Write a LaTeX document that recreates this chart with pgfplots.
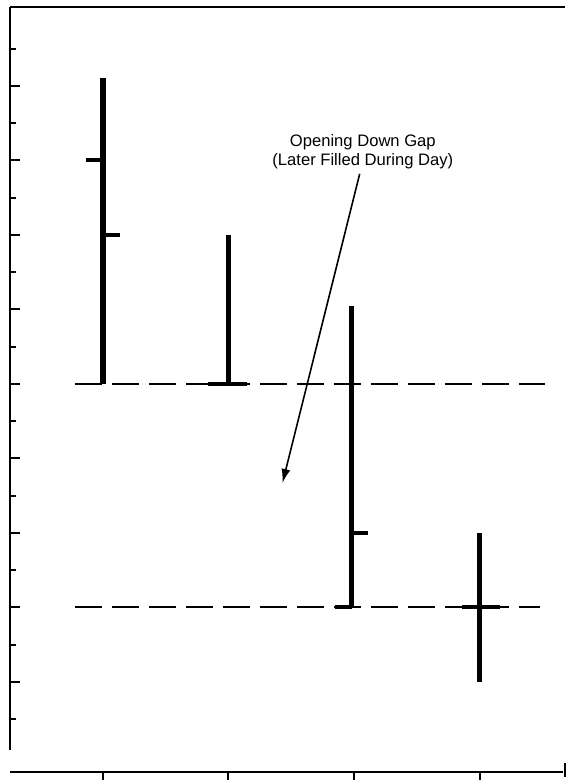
\documentclass[border=0pt]{standalone}
\usepackage{pgfplots}
\pgfplotsset{compat=1.18}
\usepackage{fontspec}
\setmainfont{Liberation Sans}
\usetikzlibrary{arrows.meta}
\begin{document}
\begin{tikzpicture}[x=1pt,y=1pt]
\useasboundingbox (0,0) rectangle (284,390);
\begin{axis}[
  at={(5pt,4pt)}, anchor=south west,
  scale only axis, width=277.5pt, height=382.5pt,
  xmin=0.26, xmax=4.68, ymin=-0.21, ymax=10.06,
  axis line style={draw=none},
  every tick/.style={black, line width=1pt},
  xtick pos=left, ytick pos=left,
  xtick={1,2,3,4}, xticklabels={},
  x tick style={/pgfplots/tick align=outside},
  ytick={1,...,9}, yticklabels={},
  y tick style={/pgfplots/tick align=inside},
  major tick length=5pt,
  extra y ticks={0.5,1.5,2.5,3.5,4.5,5.5,6.5,7.5,8.5,9.5},
  extra y tick labels={},
  extra y tick style={tick align=outside, major tick length=3pt, ytick pos=left},
  clip=false,
]
% OHLC bars: vertical high-low ranges
\addplot[black, line width=2.6pt] coordinates {(1,5) (1,9.1)};
\addplot[black, line width=2.6pt] coordinates {(2,5) (2,7)};
\addplot[black, line width=2.6pt] coordinates {(2.98,2) (2.98,6.05)};
\addplot[black, line width=2.6pt] coordinates {(4,1) (4,3)};
% open ticks (left)
\addplot[black, line width=2pt] coordinates {(0.865,8) (1,8)};
\addplot[black, line width=2pt] coordinates {(1.84,5) (2,5)};
\addplot[black, line width=2pt] coordinates {(2.85,2) (2.98,2)};
\addplot[black, line width=2pt] coordinates {(3.86,2) (4,2)};
% close ticks (right)
\addplot[black, line width=2pt] coordinates {(1,7) (1.135,7)};
\addplot[black, line width=2pt] coordinates {(2,5) (2.145,5)};
\addplot[black, line width=2pt] coordinates {(2.98,3) (3.11,3)};
\addplot[black, line width=2pt] coordinates {(4,2) (4.16,2)};
% dashed reference lines
\addplot[black, line width=0.9pt, dash pattern=on 13.5pt off 5pt] coordinates {(0.777,5) (4.52,5)};
\addplot[black, line width=0.9pt, dash pattern=on 13.5pt off 5pt] coordinates {(0.777,2) (4.48,2)};
% frame: top, left (stopping short of the bottom), bottom
\draw[black, line width=1pt] (rel axis cs:0,1) -- (rel axis cs:1,1);
\draw[black, line width=1pt] (rel axis cs:0,1) -- (rel axis cs:0,0.029);
\draw[black, line width=1.4pt] (rel axis cs:0,0) -- (rel axis cs:0.997,0);
\draw[black, line width=0.8pt] (rel axis cs:1,0.012) -- (rel axis cs:1,-0.006);
% annotation
\node[align=center, font=\fontsize{8.3}{9.3}\selectfont, inner sep=0pt] at (axis cs:3.07,8.12) {Opening Down Gap\\(Later Filled During Day)};
\draw[-{Latex[length=7pt,width=4.5pt]}, line width=0.8pt] (axis cs:3.045,7.82) -- (axis cs:2.43,3.67);
\end{axis}
\end{tikzpicture}
\end{document}
